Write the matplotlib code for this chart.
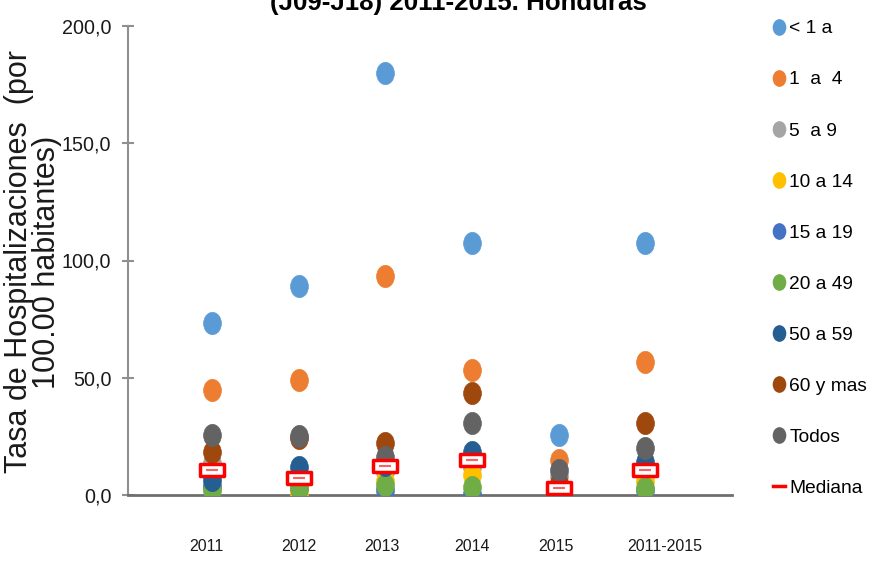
import numpy as np
import matplotlib.pyplot as plt
from matplotlib.path import Path
from matplotlib.transforms import Affine2D
from matplotlib.lines import Line2D
from matplotlib.ticker import FuncFormatter, MultipleLocator

# datos
periodos = ["2011", "2012", "2013", "2014", "2015", "2011-2015"]
grupos = ["< 1 a", "1  a  4", "5  a 9", "10 a 14", "15 a 19",
          "20 a 49", "50 a 59", "60 y mas", "Todos"]
colores = ["#5B9BD5", "#ED7D31", "#A5A5A5", "#FFC000", "#4472C4",
           "#70AD47", "#255E91", "#9E480E", "#636363"]

menor_1 = [73.3, 89.1, 180.0, 107.5, 25.6, 107.5]
de_1_4 = [44.8, 49.0, 93.4, 53.3, 14.9, 56.7]
de_5_9 = [13.5, 8.0, 10.0, 12.0, 8.0, 10.0]
de_10_14 = [3.0, 1.0, 6.0, 8.5, 2.0, 6.0]
de_15_19 = [4.0, 3.0, 2.0, 0.5, 1.0, 2.0]
de_20_49 = [2.0, 3.0, 4.3, 3.4, 0.3, 3.0]
de_50_59 = [6.4, 12.0, 13.0, 18.3, 3.0, 14.0]
mas_60 = [18.3, 24.5, 22.0, 43.5, 5.0, 30.7]
todos = [25.6, 25.2, 16.0, 30.7, 10.7, 20.0]
mediana = [10.7, 7.2, 12.4, 14.9, 3.0, 10.7]

series = [menor_1, de_1_4, de_5_9, de_10_14, de_15_19,
          de_20_49, de_50_59, mas_60, todos]

plt.rcParams['font.family'] = ['Liberation Sans', 'DejaVu Sans']

# marcadores: elipse (imagen estirada) y caja de la mediana
elipse = Path.unit_circle().transformed(Affine2D().scale(1.0, 1.25))
caja = Path([(-1, -0.5), (1, -0.5), (1, 0.5), (-1, 0.5), (-1, -0.5)],
            [Path.MOVETO, Path.LINETO, Path.LINETO, Path.LINETO, Path.CLOSEPOLY])

fig = plt.figure(figsize=(8.69, 5.61), dpi=100)
ax = fig.add_axes([128 / 869, 66 / 561, 604 / 869, 469 / 561])

x = np.arange(1, len(periodos) + 1)
for vals, col in zip(series, colores):
    ax.plot(x, vals, linestyle='none', marker=elipse, markersize=16,
            markerfacecolor=col, markeredgecolor=col, markeredgewidth=0.5,
            zorder=3)

ax.plot(x, mediana, linestyle='none', marker=caja, markersize=17,
        markerfacecolor='white', markeredgecolor='#FF0000',
        markeredgewidth=2.5, zorder=4)
ax.plot(x, mediana, linestyle='none', marker='_', markersize=9,
        markeredgecolor='#FF6060', markeredgewidth=1.5, zorder=5)

ax.set_xlim(0.03, 7.0)
ax.set_ylim(0, 200)
ax.yaxis.set_major_locator(MultipleLocator(50))
ax.yaxis.set_major_formatter(FuncFormatter(lambda v, p: f"{v:.1f}".replace('.', ',')))

# etiquetas de categoria algo desplazadas como en la imagen
pos_etiquetas = [0.93, 2.0, 2.96, 4.0, 4.97, 6.22]
ax.set_xticks(pos_etiquetas)
ax.set_xticklabels(periodos)
ax.tick_params(axis='x', length=0, pad=32, labelsize=11.5, labelcolor='#1a1a1a')
ax.tick_params(axis='y', direction='inout', length=8, width=1.5, color='#909090',
               pad=8, labelsize=14.2, labelcolor='#1a1a1a')

for s in ['top', 'right']:
    ax.spines[s].set_visible(False)
ax.spines['left'].set_color('#909090')
ax.spines['left'].set_linewidth(1.5)
ax.spines['bottom'].set_color('#6f6f6f')
ax.spines['bottom'].set_linewidth(2)

# titulo cortado en la parte superior
fig.text(0.527, 1 - 10 / 561, "(J09-J18) 2011-2015. Honduras",
         ha='center', va='baseline', fontsize=18.6, fontweight='bold')

fig.text(33 / 869, 0.533, "Tasa de Hospitalizaciones  (por\n100.00 habitantes)",
         rotation=90, ha='center', va='center', multialignment='center',
         fontsize=22, linespacing=0.92, color='#1a1a1a')

handles = [Line2D([], [], linestyle='none', marker=elipse, markersize=11,
                  markerfacecolor=c, markeredgecolor=c) for c in colores]
handles.append(Line2D([], [], color='#FF0000', lw=2.5))
etiquetas = grupos + ["Mediana"]
fig.legend(handles, etiquetas, loc='upper left',
           bbox_to_anchor=(773 / 869, 1 - 20 / 561), frameon=False,
           fontsize=13.8, handlelength=0.6, handletextpad=0.25,
           labelspacing=1.755, borderpad=0, borderaxespad=0)

fig.savefig("out.png", dpi=100)
